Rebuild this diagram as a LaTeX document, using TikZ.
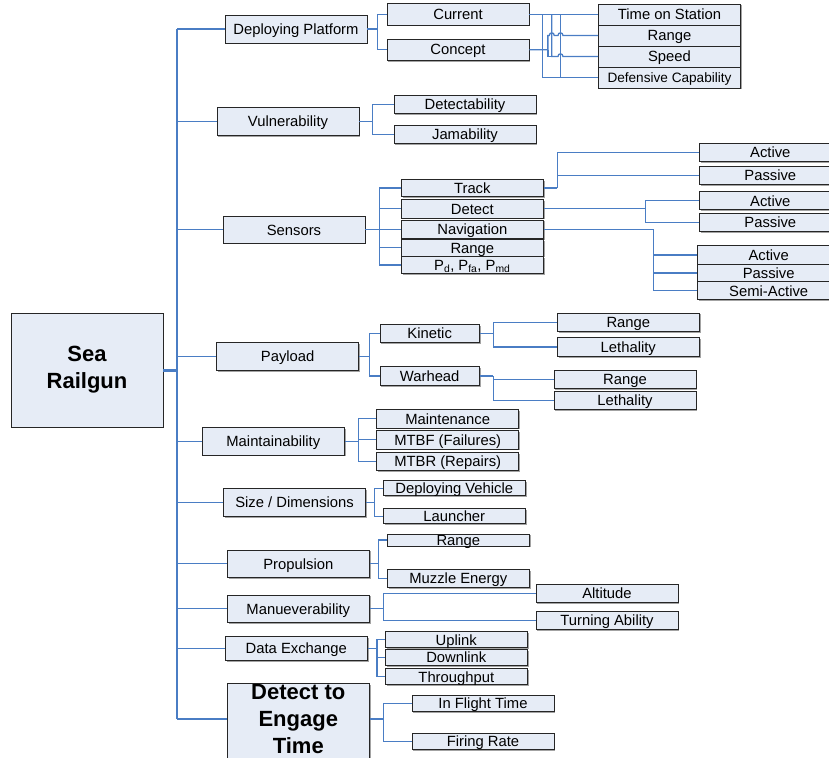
\documentclass[tikz,border=0pt]{standalone}
\usepackage{fontspec}
\setmainfont{Liberation Sans}
\usetikzlibrary{positioning}
\usetikzlibrary{shadows}
\definecolor{boxfill}{HTML}{E6ECF6}
\definecolor{linkblue}{HTML}{4A7DC4}
\tikzset{every node/.style={inner sep=0pt},
      item/.style={ % Sets the properties for each box
      draw=black!85, fill=boxfill, line width=0.9pt,
      drop shadow={shadow xshift=1.2pt, shadow yshift=-1.2pt, fill=black!45, opacity=0.8},
      minimum width=142pt, text height=10.6pt, text depth=0pt,
      font=\fontsize{14.8}{16}\selectfont},
      rootbox/.style={ % Big bold boxes
      draw=black!85, fill=boxfill, line width=0.9pt,
      drop shadow={shadow xshift=1.2pt, shadow yshift=-1.2pt, fill=black!45, opacity=0.8},
      font=\fontsize{22}{27}\selectfont\bfseries, align=center},
      title/.style={font=\fontsize{22}{27}\selectfont\bfseries, align=center},
      link/.style={draw=linkblue, line width=1.3pt}, % Connectors
      spine/.style={draw=linkblue, line width=2pt}}

\begin{document}
\begin{tikzpicture}[x=1pt, y=-1pt]
      \useasboundingbox (0,0) rectangle (829,757);
      \clip (0,0) rectangle (829,757);
      % Root and first level
      \node[rootbox, minimum width=152pt, minimum height=114pt] (root) at (87,370) {Sea\\Railgun};
      \node[item, minimum height=28pt] (dp) at (296,29) {Deploying Platform};
      \node[item, minimum height=28pt] (vul) at (288,121.7) {Vulnerability};
      \node[item, minimum height=27pt] (sen) at (294,229.7) {Sensors};
      \node[item, minimum height=28pt] (pay) at (287.7,356.3) {Payload};
      \node[item, minimum height=27.7pt] (mnt) at (273.3,441.2) {Maintainability};
      \node[item, minimum height=28pt] (siz) at (294.5,502.3) {Size / Dimensions};
      \node[item, minimum height=27.7pt] (pro) at (298.3,563.8) {Propulsion};
      \node[item, minimum height=27.7pt] (man) at (298.3,608.8) {Manueverability};
      \node[item, minimum height=23.6pt] (dex) at (296.3,648.5) {Data Exchange};
      \node[rootbox, minimum width=142pt, minimum height=90pt, anchor=north] (dte) at (298.3,683.3) {};
      \node[title] (dtetext) at (298.3,719) {Detect to\\Engage\\Time};

      % Deploying Platform
      \node[item, minimum height=21.7pt] (cur) at (458,14.2) {Current};
      \node[item, minimum height=21.3pt] (con) at (458,49.7) {Concept};
      \node[item, minimum height=21pt] (tos) at (669.5,14.5) {Time on Station};
      \node[item, minimum height=21pt] (rng) at (669.5,35.5) {Range};
      \node[item, minimum height=21pt] (spd) at (669.5,56.5) {Speed};
      \node[item, minimum height=21pt, font=\fontsize{13.6}{15}\selectfont] (dcap) at (669.5,77.5) {Defensive Capability};

      % Vulnerability
      \node[item, minimum height=18.3pt] (dtc) at (465,104.2) {Detectability};
      \node[item, minimum height=18.3pt] (jam) at (465,134.2) {Jamability};

      % Sensors
      \node[item, minimum height=17.4pt] (trk) at (472.3,188) {Track};
      \node[item, minimum height=18.7pt] (det) at (472.3,208.7) {Detect};
      \node[item, minimum height=18.7pt] (nav) at (472.3,229.3) {Navigation};
      \node[item, minimum height=16.7pt] (srng) at (472.3,247.7) {Range};
      \node[item, minimum height=16.7pt] (prob) at (472.3,265) {P\textsubscript{d}, P\textsubscript{fa}, P\textsubscript{md}};
      \node[item, minimum height=18.4pt] (tact) at (770.3,152.5) {Active};
      \node[item, minimum height=17.6pt] (tpas) at (770.3,175.5) {Passive};
      \node[item, minimum height=18pt] (dact) at (770.3,200.7) {Active};
      \node[item, minimum height=18.4pt] (dpas) at (770.3,222.5) {Passive};
      \node[item, minimum height=18.6pt] (nact) at (768.7,255) {Active};
      \node[item, minimum height=17.4pt] (npas) at (768.7,273) {Passive};
      \node[item, minimum height=18pt] (nsemi) at (768.7,290.7) {Semi-Active};

      % Payload
      \node[item, minimum width=99.3pt, minimum height=18.4pt] (kin) at (429.7,333.5) {Kinetic};
      \node[item, minimum width=99.3pt, minimum height=18.6pt] (war) at (429.7,376) {Warhead};
      \node[item, minimum height=18.3pt] (krng) at (628.3,322.2) {Range};
      \node[item, minimum height=18.6pt] (kleth) at (628.3,347) {Lethality};
      \node[item, minimum height=18.4pt] (wrng) at (625,379.5) {Range};
      \node[item, minimum height=18.3pt] (wleth) at (625,400.2) {Lethality};

      % Maintainability
      \node[item, minimum height=18.7pt] (mtc) at (447.7,418.7) {Maintenance};
      \node[item, minimum height=18.7pt] (mtbf) at (447.7,439.7) {MTBF (Failures)};
      \node[item, minimum height=18.4pt] (mtbr) at (447.7,461.5) {MTBR (Repairs)};

      % Size, propulsion, manoeuvring
      \node[item, minimum height=15pt] (veh) at (454.3,488.2) {Deploying Vehicle};
      \node[item, minimum height=15pt] (lau) at (454.3,516.2) {Launcher};
      \node[item, minimum height=12pt] (prng) at (458.3,540) {Range};
      \node[item, minimum height=18pt] (muz) at (458.3,578.3) {Muzzle Energy};
      \node[item, minimum height=18pt] (alt) at (607,593.3) {Altitude};
      \node[item, minimum height=18.4pt] (turn) at (607,620.5) {Turning Ability};

      % Data exchange and timing
      \node[item, minimum height=16pt] (up) at (456.3,639.7) {Uplink};
      \node[item, minimum height=16pt] (down) at (456.3,657.3) {Downlink};
      \node[item, minimum height=16pt] (thru) at (456.3,676.7) {Throughput};
      \node[item, minimum height=16pt] (flight) at (483,703.3) {In Flight Time};
      \node[item, minimum height=16.4pt] (fire) at (483,741.5) {Firing Rate};

      % Spine from the root
      \draw[link, line width=3pt] (root.east) -- ++(13.7,0) coordinate (hub);
      \draw[spine] (hub |- dp.west) -- (hub |- dtetext);
      \foreach \n in {dp,vul,sen,pay,mnt,siz,pro,man,dex}
            \draw[link] (hub |- \n.west) -- (\n.west);
      \draw[link] (hub |- dtetext) -- (dte.west |- dtetext);

      % Forks to the children
      \draw[link] (dp.east) -- ++(10,0) coordinate (fdp);
      \foreach \n in {cur,con} \draw[link] (fdp) |- (\n.west);
      \draw[link] (vul.east) -- ++(13,0) coordinate (fvul);
      \foreach \n in {dtc,jam} \draw[link] (fvul) |- (\n.west);
      \draw[link] (sen.east) -- ++(14,0) coordinate (fsen);
      \foreach \n in {trk,det,nav,srng,prob} \draw[link] (fsen) |- (\n.west);
      \draw[link] (trk.east) -- ++(13.4,0) coordinate (ftrk);
      \foreach \n in {tact,tpas} \draw[link] (ftrk) |- (\n.west);
      \draw[link] (det.east) -- ++(101.4,0) coordinate (fdet);
      \foreach \n in {dact,dpas} \draw[link] (fdet) |- (\n.west);
      \draw[link] (nav.east) -- ++(110,0) coordinate (fnav);
      \foreach \n in {nact,npas,nsemi} \draw[link] (fnav) |- (\n.west);
      \draw[link] (pay.east) -- ++(10.6,0) coordinate (fpay);
      \foreach \n in {kin,war} \draw[link] (fpay) |- (\n.west);
      \draw[link] (kin.east) -- ++(13.4,0) coordinate (fkin);
      \foreach \n in {krng,kleth} \draw[link] (fkin) |- (\n.west);
      \draw[link] (war.east) -- ++(13.4,0) coordinate (fwar);
      \foreach \n in {wrng,wleth} \draw[link] (fwar) |- (\n.west);
      \draw[link] (mnt.east) -- ++(14,0) coordinate (fmnt);
      \foreach \n in {mtc,mtbf,mtbr} \draw[link] (fmnt) |- (\n.west);
      \draw[link] (siz.east) -- ++(8.7,0) coordinate (fsiz);
      \foreach \n in {veh,lau} \draw[link] (fsiz) |- (\n.west);
      \draw[link] (pro.east) -- ++(8.4,0) coordinate (fpro);
      \foreach \n in {prng,muz} \draw[link] (fpro) |- (\n.west);
      \draw[link] (man.east) -- ++(13.4,0) coordinate (fman);
      \foreach \n in {alt,turn} \draw[link] (fman) |- (\n.west);
      \draw[link] (dex.east) -- ++(9.2,0) coordinate (fdex);
      \foreach \n in {up,down,thru} \draw[link] (fdex) |- (\n.west);
      \draw[link] (dte.east |- dtetext) -- ++(13.4,0) coordinate (fdte);
      \foreach \n in {flight,fire} \draw[link] (fdte) |- (\n.west);

      % Current and Concept share the platform attributes (with line jumps)
      \path (cur.east) ++(13.3,0) coordinate (v1) ++(9,0) coordinate (v2) ++(8.7,0) coordinate (v3);
      \path (con.east) ++(18.4,0) coordinate (v0);
      \coordinate (r2) at (v2 |- rng.west);
      \coordinate (r3) at (v3 |- rng.west);
      \coordinate (s3) at (v3 |- spd.west);
      \draw[link] (cur.east) -- (cur.east -| tos.west);
      \draw[link] (v1) |- (dcap.west);
      \draw[link] (v3) |- (dcap.west);
      \draw[link] (v2) -- (v2 |- spd.west) -- ([xshift=-2.5pt]s3)
            .. controls +(0,-3.5) and +(0,-3.5) .. ([xshift=2.5pt]s3) -- (spd.west);
      \draw[link] (con.east) -- (v0 |- con.east) -- (v0 |- rng.west) -- ([xshift=-2.5pt]r2)
            .. controls +(0,-3.5) and +(0,-3.5) .. ([xshift=2.5pt]r2) -- ([xshift=-2.5pt]r3)
            .. controls +(0,-3.5) and +(0,-3.5) .. ([xshift=2.5pt]r3) -- (rng.west);
      \draw[link] (v0 |- con.east) -- (v0 |- spd.west) -- (v2 |- spd.west);
\end{tikzpicture}
\end{document}
